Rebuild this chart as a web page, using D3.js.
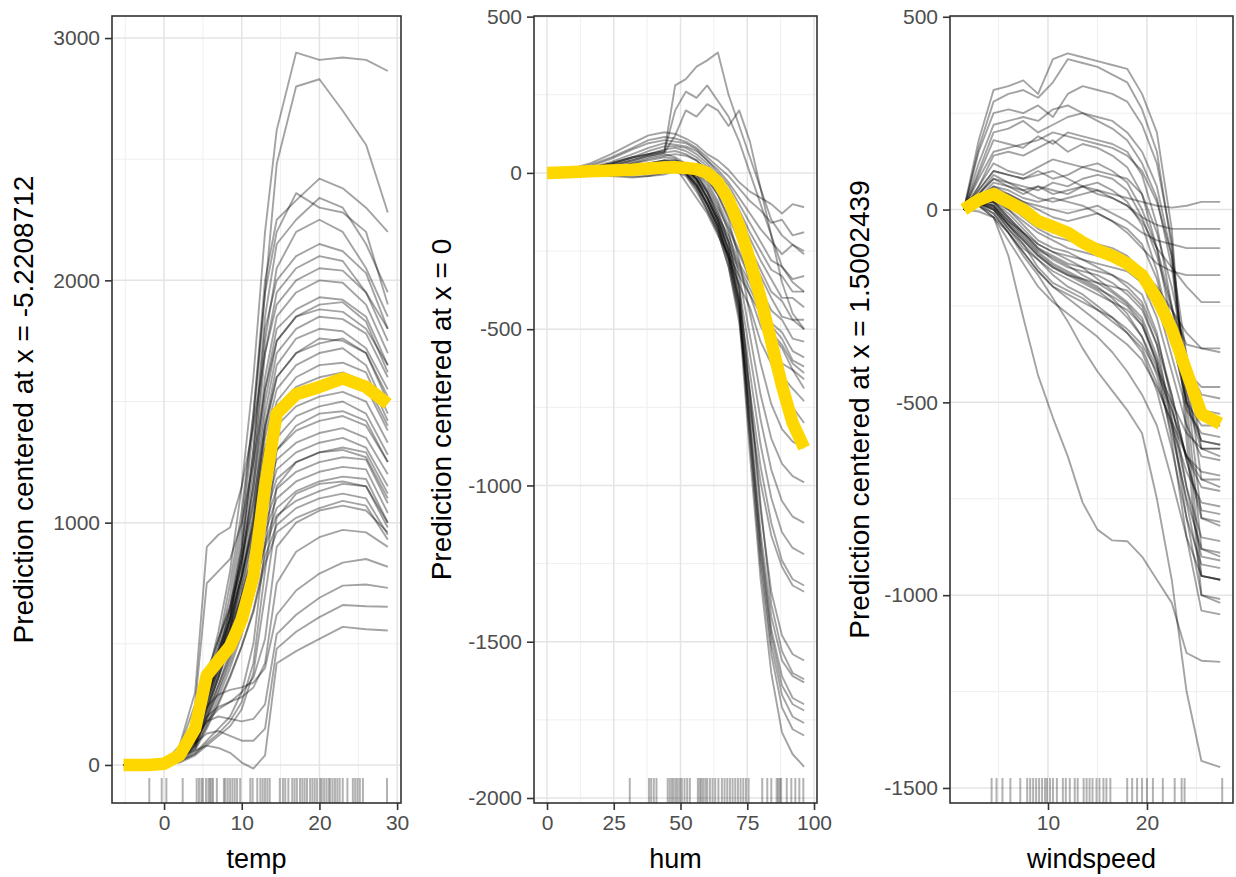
<!DOCTYPE html>
<html><head><meta charset="utf-8">
<script src="https://cdn.jsdelivr.net/npm/d3@7"></script>
<style>body{margin:0;background:#fff}svg{display:block}</style>
</head><body>
<svg id="chart" width="1236" height="877"></svg>
<script>
// ---------------- DATA ----------------
// temp panel
const tempGrid = [-5.22, -2, 0, 2, 4, 5.5, 7, 8.5, 10, 11.5, 13, 14.5, 17, 20, 23, 26, 28.8];
const tempPdp  = [0, 0, 5, 40, 150, 370, 430, 490, 600, 780, 1150, 1450, 1530, 1560, 1595, 1560, 1490];
const tempIce = [
  [0,0,5,40,150,350,550,800,1150,1600,2200,2620,2940,2910,2920,2910,2864],
  [0,0,5,40,140,320,500,750,1050,1450,1950,2480,2800,2830,2700,2560,2280],
  [0,0,5,40,160,330,480,700,1000,1450,2000,2250,2330,2420,2380,2300,2200],
  [0,0,5,35,140,300,450,650,950,1400,1950,2200,2360,2300,2280,2200,1900],
  [0,0,3,30,120,280,420,600,900,1300,1850,2150,2250,2340,2300,2150,1950],
  [0,0,3,30,130,290,430,620,880,1250,1750,2050,2200,2250,2200,2050,1850],
  [0,0,5,40,150,310,460,650,900,1300,1800,2000,2100,2150,2120,2030,1800],
  [0,0,4,30,110,250,380,560,820,1200,1700,1950,2050,2100,2080,1950,1750],
  [0,0,5,35,130,290,430,600,850,1150,1600,1850,1950,2000,1990,1900,1700],
  [0,0,5,40,150,320,470,620,850,1150,1550,1800,1880,1930,1920,1850,1650],
  [0,0,3,30,110,260,400,560,780,1050,1450,1700,1800,1850,1840,1780,1600],
  [0,0,3,25,100,240,380,540,760,1000,1400,1650,1760,1800,1790,1720,1550],
  [0,0,5,40,160,350,520,660,850,1080,1400,1600,1700,1760,1750,1700,1500],
  [0,0,4,30,120,280,420,580,780,1000,1350,1550,1650,1700,1720,1650,1450],
  [0,0,4,30,100,230,360,520,720,950,1300,1500,1600,1650,1660,1620,1420],
  [0,0,4,30,130,300,450,600,780,980,1300,1480,1560,1600,1620,1580,1400],
  [0,0,3,30,110,260,400,540,700,900,1200,1400,1480,1520,1540,1500,1330],
  [0,0,3,25,90,220,360,500,680,880,1170,1350,1440,1480,1500,1450,1280],
  [0,0,4,30,120,280,420,560,700,880,1130,1300,1380,1420,1440,1400,1250],
  [0,0,3,20,80,200,330,470,640,830,1100,1260,1330,1370,1390,1350,1200],
  [0,0,3,25,100,230,360,500,650,820,1050,1220,1290,1330,1350,1310,1150],
  [0,0,4,30,120,270,400,520,660,820,1030,1180,1250,1290,1310,1290,1120],
  [0,0,3,20,80,190,310,440,590,760,990,1140,1210,1250,1270,1260,1080],
  [0,0,3,25,90,210,330,450,590,750,960,1100,1170,1210,1230,1220,1040],
  [0,0,2,20,70,170,280,400,540,700,920,1060,1130,1170,1190,1180,1000],
  [0,0,3,25,80,190,300,420,560,720,900,1030,1090,1130,1160,1150,980],
  [0,0,2,15,60,150,250,360,490,640,860,990,1060,1100,1120,1100,950],
  [0,0,2,20,70,160,260,370,490,630,830,960,1020,1060,1090,1070,930],
  [0,0,10,80,300,900,950,980,1150,1400,1700,1900,2000,2050,2040,1950,1800],
  [0,0,10,70,250,750,800,850,1000,1250,1550,1750,1850,1880,1870,1800,1650],
  [0,0,5,30,60,80,70,50,10,-15,40,420,470,520,570,560,555],
  [0,0,5,35,90,130,140,120,100,100,150,480,550,610,660,655,653],
  [0,0,5,40,110,180,200,190,180,190,250,540,620,690,740,745,731],
  [0,0,5,40,130,240,290,310,320,340,400,620,720,790,835,850,818],
  [0,0,5,40,120,200,240,260,280,320,420,750,880,940,970,960,900],
  [0,0,4,35,100,180,230,260,300,360,520,900,1000,1050,1070,1050,960],
  [0,0,2,15,50,100,150,200,300,500,900,1300,1400,1450,1460,1420,1250],
  [0,0,2,15,45,90,130,180,260,420,800,1150,1250,1290,1300,1270,1100],
  [0,0,2,10,40,80,120,160,230,380,700,1020,1120,1160,1170,1150,1000],
  [0,0,5,45,170,380,520,640,820,1100,1500,1750,1850,1900,1910,1830,1620],
  [0,0,4,35,140,330,470,600,780,1020,1380,1600,1700,1740,1760,1700,1520],
  [0,0,3,30,120,300,440,570,740,960,1250,1450,1530,1570,1590,1560,1380]
];
const tempRug = [-1.9, -0.3, 0.3, 2.4, 4.2, 4.5, 4.8, 5.0, 5.4, 5.7, 5.9, 6.1, 6.3, 6.8, 7.7, 7.9, 8.2, 8.5,
  8.8, 9.1, 9.4, 9.8, 11.1, 11.4, 12.0, 12.4, 12.7, 13.0, 13.3, 13.6, 14.9, 15.3, 15.6, 16.0, 16.5, 16.8,
  17.1, 17.5, 17.8, 18.1, 18.4, 18.8, 19.1, 19.4, 19.7, 20.1, 20.3, 20.6, 20.9, 21.2, 21.4, 21.7, 22.0,
  22.3, 22.6, 23.0, 23.6, 24.3, 24.6, 24.9, 25.2, 25.6, 28.7];
const tempXTicks = [0, 10, 20, 30];
const tempYTicks = [0, 1000, 2000, 3000];
const tempXMinor = [-5, 5, 15, 25];
const tempYMinor = [500, 1500, 2500];

// hum panel
const humGrid = [0, 8, 16, 24, 32, 38, 44, 48, 52, 56, 60, 64, 68, 72, 76, 80, 84, 88, 92, 96.3];
const humPdp  = [0, 2, 5, 8, 10, 14, 17, 18, 16, 12, 0, -30, -85, -170, -280, -400, -540, -680, -800, -880];
const humIce = [
  [0,10,30,60,95,120,130,125,110,90,60,40,10,-30,-60,-80,-100,-130,-100,-110],
  [0,8,25,50,80,105,115,110,100,80,50,20,-10,-50,-90,-120,-160,-150,-200,-190],
  [0,6,20,45,75,95,105,100,95,75,40,10,-30,-80,-130,-180,-220,-260,-230,-260],
  [0,5,15,35,60,80,95,90,85,70,40,0,-40,-100,-160,-220,-280,-300,-340,-330],
  [0,5,15,30,50,70,85,85,80,60,30,-10,-60,-120,-190,-250,-310,-330,-380,-380],
  [0,4,10,25,45,60,75,80,70,50,20,-20,-70,-140,-210,-280,-340,-400,-400,-430],
  [0,3,10,20,40,55,65,70,60,40,10,-30,-90,-160,-240,-310,-380,-410,-470,-470],
  [0,2,8,15,30,45,55,60,55,40,5,-40,-100,-180,-260,-330,-400,-460,-470,-500],
  [0,0,-5,-10,-15,-10,0,10,20,10,-20,-70,-140,-220,-300,-370,-440,-470,-530,-540],
  [0,0,-3,-8,-12,-10,-5,5,10,0,-30,-90,-170,-250,-330,-400,-480,-510,-570,-590],
  [0,0,0,0,5,10,15,15,10,-10,-50,-110,-180,-260,-340,-410,-490,-530,-600,-620],
  [0,0,0,5,10,15,20,25,20,-20,-80,-150,-220,-300,-370,-440,-520,-560,-630,-660],
  [0,-2,-5,-8,-5,0,10,20,-30,-80,-130,-200,-260,-330,-390,-450,-510,-550,-610,-640],
  [0,5,15,30,50,60,70,280,300,340,360,385,250,150,50,-50,-150,-200,-230,-250],
  [0,5,15,30,50,60,70,200,260,240,280,230,180,100,0,-100,-200,-300,-350,-380],
  [0,5,10,25,40,55,65,120,200,180,220,200,150,200,100,-50,-200,-350,-450,-500],
  [0,2,5,10,20,30,40,40,30,10,-20,-70,-150,-280,-450,-610,-740,-820,-860,-880],
  [0,2,5,10,20,30,40,40,30,0,-40,-100,-190,-330,-520,-710,-850,-930,-970,-990],
  [0,2,5,10,15,25,30,30,20,-10,-60,-120,-220,-370,-580,-790,-950,-1050,-1100,-1120],
  [0,0,0,5,10,20,25,25,10,-20,-80,-150,-250,-410,-640,-870,-1040,-1150,-1200,-1220],
  [0,0,0,5,10,15,20,20,0,-40,-100,-170,-280,-450,-700,-940,-1120,-1240,-1300,-1320],
  [0,0,0,0,5,10,15,15,-5,-50,-120,-190,-300,-480,-750,-990,-1160,-1260,-1320,-1340],
  [0,0,0,5,10,15,20,20,10,-20,-60,-130,-220,-360,-720,-1080,-1340,-1480,-1540,-1560],
  [0,0,0,5,10,15,20,20,5,-30,-80,-150,-250,-400,-780,-1150,-1420,-1560,-1610,-1630],
  [0,0,0,0,5,10,15,15,0,-40,-100,-170,-270,-420,-820,-1200,-1480,-1640,-1700,-1720],
  [0,0,0,0,5,10,10,10,-5,-50,-110,-180,-280,-440,-860,-1260,-1540,-1710,-1780,-1800],
  [0,0,0,0,0,5,5,5,-10,-60,-120,-190,-300,-460,-900,-1300,-1600,-1790,-1860,-1900],
  [0,2,5,10,15,20,25,25,15,-20,-70,-140,-240,-380,-700,-1060,-1380,-1530,-1600,-1620],
  [0,0,0,0,5,10,15,15,0,-40,-90,-160,-260,-410,-800,-1180,-1460,-1610,-1680,-1700],
  [0,0,0,0,5,10,15,15,0,-40,-100,-170,-270,-430,-840,-1230,-1510,-1670,-1740,-1760],
  [0,3,10,20,35,50,60,50,30,0,-60,-140,-200,-290,-350,-430,-510,-610,-630,-690],
  [0,2,8,15,30,40,50,45,20,-20,-80,-160,-240,-310,-390,-490,-550,-650,-690,-730],
  [0,0,5,10,20,30,40,30,10,-30,-100,-180,-270,-360,-430,-540,-610,-710,-750,-800]
];
const humRug = [31, 38.2, 39, 40, 41, 45.2, 46, 46.8, 47.5, 48.3, 49, 49.8, 50.5, 51.5, 52.5, 53.5, 56.5,
  57.2, 57.8, 58.5, 59.3, 60, 61, 62, 63, 64.2, 65.5, 66.5, 67.5, 68.5, 69.5, 70.5, 71.5, 72.5, 73.5,
  74.5, 75.5, 80.6, 82.5, 84, 86, 86.6, 87.2, 87.7, 89.8, 91.5, 93, 94.5, 96];
const humXTicks = [0, 25, 50, 75, 100];
const humYTicks = [-2000, -1500, -1000, -500, 0, 500];
const humXMinor = [12.5, 37.5, 62.5, 87.5];
const humYMinor = [-1750, -1250, -750, -250, 250];

// windspeed panel
const windGrid = [1.5, 3, 4.5, 6, 7.5, 9, 10.5, 12, 13.5, 15, 16.5, 18, 19.5, 21, 22.5, 24, 25.5, 27.4];
const windPdp  = [0, 25, 40, 20, 0, -30, -45, -60, -85, -105, -120, -140, -170, -230, -310, -420, -530, -555];
const windIce = [
  [0,180,310,320,335,300,390,405,395,385,375,365,300,200,-50,-550,-950,-960],
  [0,160,280,300,310,290,330,390,380,370,350,330,260,150,-100,-600,-1000,-1020],
  [0,150,250,260,250,270,240,300,320,310,300,280,220,120,-80,-500,-880,-900],
  [0,120,220,230,240,230,260,270,250,240,230,200,150,60,-120,-450,-800,-820],
  [0,100,200,210,230,200,220,240,250,230,210,180,120,30,-150,-420,-700,-720],
  [0,80,150,160,170,180,200,190,180,170,160,140,100,20,-120,-380,-620,-640],
  [0,60,120,100,90,110,130,120,110,100,90,80,40,-60,-200,-380,-520,-530],
  [0,50,100,90,80,100,80,90,110,120,100,70,0,-100,-250,-400,-480,-490],
  [0,40,90,70,60,50,70,60,80,90,80,50,-20,-120,-260,-350,-360,-360],
  [0,30,70,60,50,60,40,50,60,40,30,10,-30,-100,-150,-200,-240,-240],
  [0,40,80,70,50,30,20,30,40,50,40,30,20,10,5,10,20,20],
  [0,30,60,40,20,10,0,-10,0,10,-10,-30,-60,-80,-90,-100,-100,-100],
  [0,30,60,50,30,20,30,20,10,-10,-30,-60,-100,-140,-160,-170,-170,-170],
  [0,20,10,-40,-80,-120,-150,-170,-180,-190,-200,-210,-250,-350,-550,-800,-1000,-1010],
  [0,15,0,-50,-100,-130,-160,-180,-200,-220,-240,-260,-300,-400,-600,-850,-1040,-1050],
  [0,20,20,-20,-60,-100,-120,-140,-150,-160,-170,-190,-220,-320,-500,-720,-900,-910],
  [0,25,30,0,-40,-80,-100,-110,-130,-150,-170,-200,-240,-330,-480,-650,-800,-810],
  [0,20,10,-30,-70,-110,-140,-160,-180,-200,-230,-270,-330,-430,-580,-750,-880,-890],
  [0,15,5,-40,-90,-150,-190,-210,-230,-260,-290,-320,-360,-450,-560,-680,-760,-770],
  [0,20,20,-10,-50,-90,-110,-130,-150,-180,-210,-240,-280,-380,-520,-640,-700,-700],
  [0,10,-10,-60,-110,-160,-200,-230,-260,-290,-320,-350,-390,-460,-550,-640,-680,-690],
  [0,20,30,10,-20,-50,-70,-80,-90,-100,-120,-150,-190,-280,-420,-560,-640,-650],
  [0,15,0,-40,-80,-120,-150,-170,-190,-210,-240,-280,-330,-410,-500,-580,-620,-620],
  [0,25,40,20,-10,-40,-60,-70,-80,-90,-100,-120,-160,-240,-380,-520,-580,-590],
  [0,10,-20,-80,-140,-200,-240,-270,-300,-330,-370,-420,-480,-560,-700,-850,-950,-960],
  [0,20,10,-30,-60,-90,-110,-120,-130,-140,-150,-160,-190,-250,-330,-420,-460,-460],
  [0,15,-10,-60,-110,-160,-200,-220,-240,-260,-280,-310,-350,-420,-520,-640,-720,-730],
  [0,20,20,0,-30,-60,-80,-100,-110,-120,-130,-140,-160,-200,-260,-320,-360,-370],
  [0,20,0,-50,-90,-130,-170,-200,-220,-250,-280,-320,-370,-470,-620,-800,-920,-930],
  [0,25,20,-20,-60,-100,-130,-150,-160,-170,-190,-220,-260,-350,-480,-650,-780,-790],
  [0,30,50,40,20,0,-20,-30,-20,-10,-30,-50,-90,-180,-330,-500,-600,-610],
  [0,40,80,60,40,60,50,40,60,70,50,20,-40,-160,-330,-500,-560,-560],
  [0,60,140,150,140,160,180,150,170,160,140,110,40,-100,-300,-500,-620,-620],
  [0,90,180,170,160,190,170,200,190,180,170,150,90,-40,-250,-480,-600,-610],
  [0,50,100,90,80,90,100,80,60,50,30,10,-20,-40,-50,-50,-50,-50],
  [0,-5,-20,-120,-280,-430,-540,-640,-760,-830,-858,-860,-900,-960,-1020,-1150,-1170,-1173],
  [0,10,-20,-60,-120,-170,-230,-290,-360,-420,-470,-520,-580,-750,-960,-1250,-1430,-1446],
  [0,18,5,-35,-75,-115,-145,-165,-185,-205,-225,-250,-300,-390,-540,-720,-850,-860],
  [0,22,15,-25,-65,-105,-125,-145,-170,-190,-215,-245,-290,-400,-560,-760,-950,-960]
];
const windRug = [4.3, 4.8, 5.4, 6.2, 7.2, 7.9, 8.2, 8.5, 8.8, 9.1, 9.4, 9.7, 9.9, 10.2, 10.5, 10.9, 11.5,
  11.8, 12.2, 12.7, 13.0, 13.6, 13.9, 14.2, 14.5, 14.9, 15.2, 15.6, 15.9, 16.3, 18.0, 18.5, 19.0, 19.5,
  20.0, 20.6, 21.6, 22.8, 23.5, 23.8, 27.6];
const windXTicks = [10, 20];
const windYTicks = [-1500, -1000, -500, 0, 500];
const windXMinor = [5, 15, 25];
const windYMinor = [-1250, -750, -250, 250];

const xTitles = ["temp", "hum", "windspeed"];
const yTitles = ["Prediction centered at x = -5.2208712", "Prediction centered at x = 0", "Prediction centered at x = 1.5002439"];

// ---------------- LAYOUT ----------------
const svg = d3.select("#chart");
const FONT = "'Liberation Sans', Arial, Helvetica, sans-serif";
const TOP = 16, BOTTOM = 803;

const panels = [
  {grid: tempGrid, pdp: tempPdp, ice: tempIce, rug: tempRug, xt: tempXTicks, yt: tempYTicks, xm: tempXMinor, ym: tempYMinor,
   left: 112, right: 401, xDom: [-6.7, 30.5], yDom: [-157, 3091], titleX: 33},
  {grid: humGrid, pdp: humPdp, ice: humIce, rug: humRug, xt: humXTicks, yt: humYTicks, xm: humXMinor, ym: humYMinor,
   left: 534, right: 817, xDom: [-4.87, 101.12], yDom: [-2016, 502], titleX: 451},
  {grid: windGrid, pdp: windPdp, ice: windIce, rug: windRug, xt: windXTicks, yt: windYTicks, xm: windXMinor, ym: windYMinor,
   left: 950, right: 1233, xDom: [0.1, 28.69], yDom: [-1539, 502], titleX: 869}
];

panels.forEach((p, i) => {
  const x = d3.scaleLinear().domain(p.xDom).range([p.left, p.right]);
  const y = d3.scaleLinear().domain(p.yDom).range([BOTTOM, TOP]);
  const g = svg.append("g");
  const clipId = "clip" + i;
  svg.append("clipPath").attr("id", clipId).append("rect")
    .attr("x", p.left).attr("y", TOP).attr("width", p.right - p.left).attr("height", BOTTOM - TOP);

  g.append("rect").attr("x", p.left).attr("y", TOP).attr("width", p.right - p.left).attr("height", BOTTOM - TOP).attr("fill", "#fff");

  const grid = g.append("g");
  p.xm.forEach(v => grid.append("line").attr("x1", x(v)).attr("x2", x(v)).attr("y1", TOP).attr("y2", BOTTOM)
    .attr("stroke", "#efefef").attr("stroke-width", 1));
  p.ym.forEach(v => grid.append("line").attr("y1", y(v)).attr("y2", y(v)).attr("x1", p.left).attr("x2", p.right)
    .attr("stroke", "#efefef").attr("stroke-width", 1));
  p.xt.forEach(v => grid.append("line").attr("x1", x(v)).attr("x2", x(v)).attr("y1", TOP).attr("y2", BOTTOM)
    .attr("stroke", "#e4e4e4").attr("stroke-width", 1.5));
  p.yt.forEach(v => grid.append("line").attr("y1", y(v)).attr("y2", y(v)).attr("x1", p.left).attr("x2", p.right)
    .attr("stroke", "#e4e4e4").attr("stroke-width", 1.5));

  const plot = g.append("g").attr("clip-path", `url(#${clipId})`);
  const line = d3.line().x((d, k) => x(p.grid[k])).y(d => y(d)).curve(d3.curveLinear);

  plot.selectAll("path.ice").data(p.ice).join("path").attr("class", "ice")
    .attr("d", line).attr("fill", "none").attr("stroke", "#000").attr("stroke-opacity", 0.36)
    .attr("stroke-width", 1.9).attr("stroke-linejoin", "round");

  plot.append("path").datum(p.pdp).attr("d", line).attr("fill", "none")
    .attr("stroke", "#FFD700").attr("stroke-width", 12.5).attr("stroke-linejoin", "round").attr("stroke-linecap", "butt");

  plot.selectAll("line.rug").data(p.rug).join("line").attr("class", "rug")
    .attr("x1", d => x(d)).attr("x2", d => x(d)).attr("y1", BOTTOM).attr("y2", BOTTOM - 25)
    .attr("stroke", "#000").attr("stroke-opacity", 0.3).attr("stroke-width", 2);

  g.append("rect").attr("x", p.left).attr("y", TOP).attr("width", p.right - p.left).attr("height", BOTTOM - TOP)
    .attr("fill", "none").attr("stroke", "#333").attr("stroke-width", 1.6);

  const xa = g.append("g").attr("transform", `translate(0,${BOTTOM})`)
    .call(d3.axisBottom(x).tickValues(p.xt).tickSize(7).tickPadding(5).tickFormat(d => String(d)));
  const ya = g.append("g").attr("transform", `translate(${p.left},0)`)
    .call(d3.axisLeft(y).tickValues(p.yt).tickSize(7).tickPadding(5).tickFormat(d => String(d)));
  [xa, ya].forEach(a => {
    a.select(".domain").remove();
    a.selectAll(".tick line").attr("stroke", "#333").attr("stroke-width", 1.6);
    a.selectAll(".tick text").attr("fill", "#4d4d4d").style("font-family", FONT).style("font-size", "21px");
  });

  svg.append("text").attr("x", (p.left + p.right) / 2).attr("y", 868).attr("text-anchor", "middle")
    .style("font-family", FONT).style("font-size", "27px").attr("fill", "#000").text(xTitles[i]);
  svg.append("text").attr("transform", `translate(${p.titleX},${(TOP + BOTTOM) / 2}) rotate(-90)`)
    .attr("text-anchor", "middle").style("font-family", FONT).style("font-size", "28px").attr("fill", "#000")
    .text(yTitles[i]);
});
</script>
</body></html>
